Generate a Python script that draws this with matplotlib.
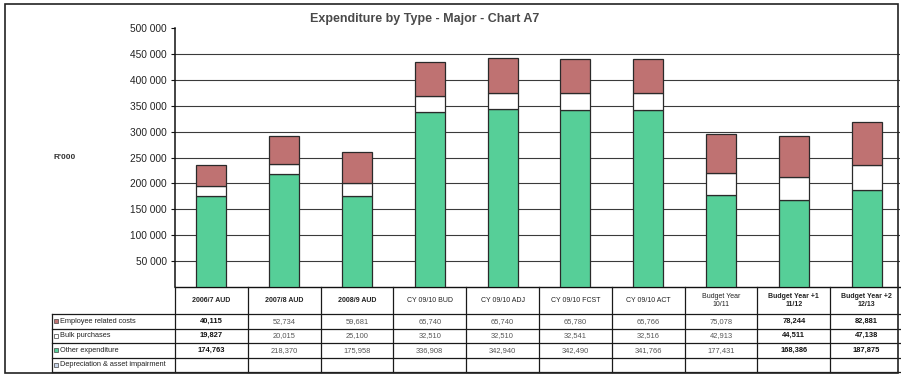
import numpy as np
import matplotlib
matplotlib.use("Agg")
import matplotlib.pyplot as plt
from matplotlib.patches import Rectangle

plt.rcParams['font.family'] = ['Liberation Sans', 'DejaVu Sans']

# ---- data (R'000) ----
categories = ["2006/7 AUD", "2007/8 AUD", "2008/9 AUD", "CY 09/10 BUD", "CY 09/10 ADJ",
              "CY 09/10 FCST", "CY 09/10 ACT", "Budget Year\n10/11",
              "Budget Year +1\n11/12", "Budget Year +2\n12/13"]
employee_costs = [40115, 52734, 59681, 65740, 65740, 65780, 65766, 75078, 78244, 82881]
bulk_purchases = [19827, 20015, 25100, 32510, 32510, 32541, 32516, 42913, 44511, 47138]
other_expenditure = [174763, 218370, 175958, 336908, 342940, 342490, 341766, 177431, 168386, 187875]
depreciation = [None] * 10
series_names = ["Employee related costs", "Bulk purchases", "Other expenditure",
                "Depreciation & asset impairment"]
y_ticks = [50000, 100000, 150000, 200000, 250000, 300000, 350000, 400000, 450000, 500000]

GREEN = "#56cf98"
RED = "#bf7272"
WHITE = "#ffffff"
BLUE = "#c9d6ea"
EDGE = "#2a2a2a"

W, H = 901, 376
fig = plt.figure(figsize=(W / 100, H / 100), dpi=100)


def box(x0, y0, x1, y1):
    return [x0 / W, 1 - y1 / H, (x1 - x0) / W, (y1 - y0) / H]


unit = 72.8                  # pixel width of one category column
plot_left, plot_right = 175, 900
xmax = (plot_right - plot_left) / unit

# ---- chart ----
ax = fig.add_axes(box(plot_left, 28, plot_right, 287))
ax.set_xlim(0, xmax)
ax.set_ylim(0, 500000)
for s in ["top", "right"]:
    ax.spines[s].set_visible(False)
ax.spines["left"].set_color("#111")
ax.spines["left"].set_linewidth(1.1)
ax.spines["bottom"].set_color("#111")
ax.spines["bottom"].set_linewidth(1.0)
ax.set_xticks([])
ax.set_yticks(y_ticks)
ax.set_yticklabels([f"{v:,}".replace(",", " ") for v in y_ticks],
                   fontsize=7.3, color="#222")
ax.tick_params(axis="y", length=3, width=0.8, color="#111", pad=3)
for v in y_ticks[:-1]:
    ax.axhline(v, color="#3a3a3a", lw=0.8, zorder=0)

x = np.arange(len(categories)) + 0.5
bw = 0.41
oth = np.array(other_expenditure)
blk = np.array(bulk_purchases)
emp = np.array(employee_costs)
ax.bar(x, oth, bw, color=GREEN, edgecolor=EDGE, lw=0.9, zorder=3)
ax.bar(x, blk, bw, bottom=oth, color=WHITE, edgecolor=EDGE, lw=0.9, zorder=3)
ax.bar(x, emp, bw, bottom=oth + blk, color=RED, edgecolor=EDGE, lw=0.9, zorder=3)

fig.text(425 / W, 1 - 19 / H, "Expenditure by Type - Major - Chart A7",
         ha="center", va="center", fontsize=9, weight="bold", color="#4a4a4a")
fig.text(65 / W, 1 - 157 / H, "R'000", ha="center", va="center",
         fontsize=6, weight="bold", color="#333")

# ---- data table ----
tab = fig.add_axes(box(52, 287, plot_right, 373))
lab_left = -(plot_left - 52) / unit
tab.set_xlim(lab_left, xmax)
tab.set_ylim(373, 287)
tab.axis("off")
row_edges = [314, 328.5, 343, 357.5, 372]
lc = "#1a1a1a"
for yy in row_edges:
    tab.plot([lab_left, xmax], [yy, yy], color=lc, lw=0.9, clip_on=False)
for i in range(len(categories)):
    tab.plot([i, i], [287, 372], color=lc, lw=0.9, clip_on=False)
tab.plot([lab_left, lab_left], [314, 372], color=lc, lw=0.9, clip_on=False)

bold_cols = {0, 8, 9}
for i, c in enumerate(categories):
    tab.text(i + 0.5, 300.5, c, ha="center", va="center", fontsize=5,
             weight="bold" if i < 3 or i > 7 else "normal", color="#222",
             linespacing=1.0)

rows = [employee_costs, bulk_purchases, other_expenditure, depreciation]
keys = [RED, WHITE, GREEN, BLUE]
for r, (vals, name, kc) in enumerate(zip(rows, series_names, keys)):
    yc = (row_edges[r] + row_edges[r + 1]) / 2
    tab.add_patch(Rectangle((lab_left + 0.03, yc - 2), 0.055, 4,
                            facecolor=kc, edgecolor="#444", lw=0.5, clip_on=False))
    tab.text(lab_left + 0.11, yc, name, ha="left", va="center",
             fontsize=5.3, color="#222")
    for i, v in enumerate(vals):
        if v is None:
            continue
        tab.text(i + 0.5, yc, f"{v:,}", ha="center", va="center", fontsize=5.4,
                 weight="bold" if i in bold_cols else "normal",
                 color="#111" if i in bold_cols else "#555")

# ---- outer frame ----
fig.patches.append(Rectangle((5 / W, 1 - 373 / H), (898 - 5) / W, (373 - 4) / H,
                             transform=fig.transFigure, fill=False,
                             edgecolor="#222", lw=1.2))

fig.savefig("out.png", dpi=100, facecolor="white")
